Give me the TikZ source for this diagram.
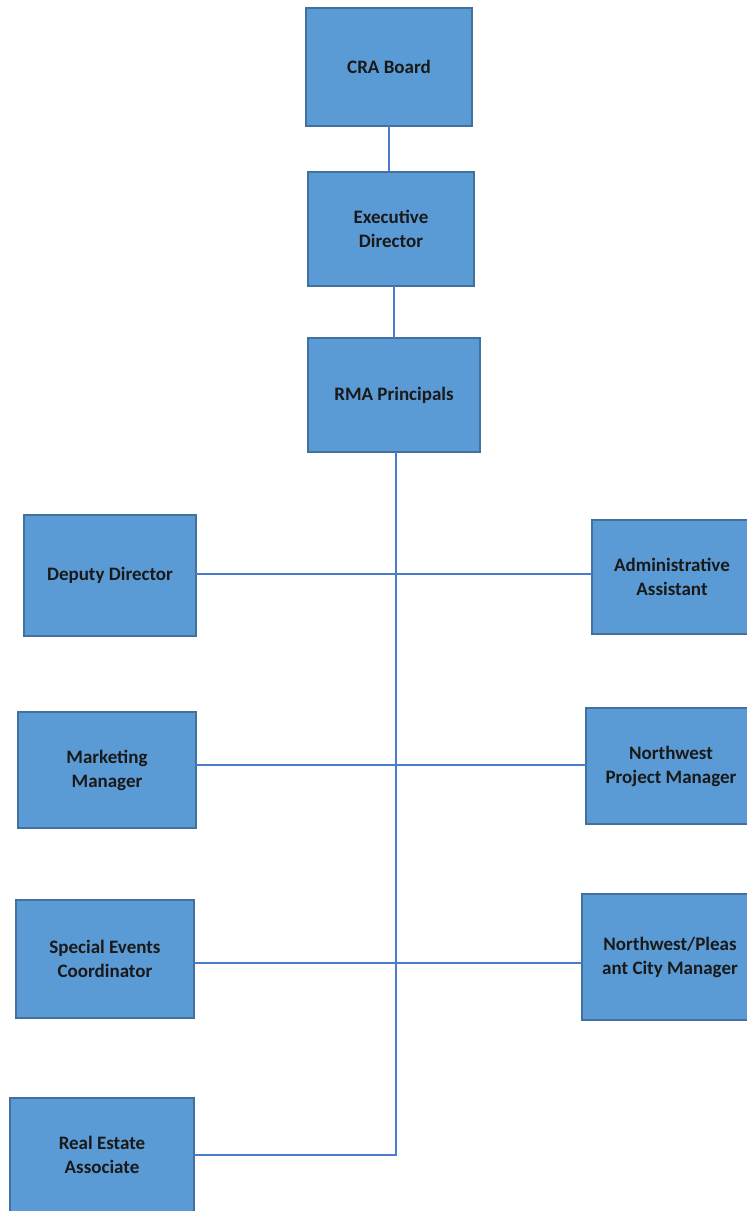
\documentclass[tikz,border=0pt]{standalone}
\usepackage{fontspec}
\setmainfont{Carlito}
\definecolor{boxfill}{HTML}{5B9BD5}
\definecolor{boxline}{HTML}{41719C}
\definecolor{conn}{HTML}{4A7CCB}
\begin{document}
\begin{tikzpicture}[x=1pt,y=-1pt,
  box/.style={draw=boxline, fill=boxfill, line width=1.4pt, inner sep=0pt, outer sep=0pt,
    anchor=north west, align=center, font=\fontsize{19}{24}\selectfont\bfseries, text=black!90},
  link/.style={draw=conn, line width=1.3pt}]
\useasboundingbox (0,0) rectangle (747,1211);
\clip (0,0) rectangle (747,1211);
\node[box, minimum width=166pt, minimum height=118pt] (cra) at (306,8) {CRA Board};
\node[box, minimum width=166pt, minimum height=114pt] (exec) at (308,172) {Executive\\Director};
\node[box, minimum width=172pt, minimum height=114pt] (rma) at (308,338) {RMA Principals};
\node[box, minimum width=172pt, minimum height=121pt] (dep) at (24,515) {Deputy Director};
\node[box, minimum width=160pt, minimum height=114pt] (adm) at (592,520) {Administrative\\Assistant};
\node[box, minimum width=178pt, minimum height=116pt] (mkt) at (18,712) {Marketing\\Manager};
\node[box, minimum width=170pt, minimum height=116pt] (nwp) at (586,708) {Northwest\\Project Manager};
\node[box, minimum width=178pt, minimum height=118pt] (sec) at (16,900) {Special Events\\Coordinator};
\node[box, minimum width=176pt, minimum height=126pt] (nwc) at (582,894) {Northwest/Pleas\\ant City Manager};
\node[box, minimum width=184pt, minimum height=114pt] (rea) at (10,1098) {Real Estate\\Associate};
\coordinate (spine) at (396,1155);
\draw[link] (cra.south) -- (cra.south |- exec.north);
\draw[link] (exec.south -| 394,0) -- (394,338);
\draw[link] (rma.south -| spine) -- (spine) -- (rea.east |- spine);
\draw[link] (dep.east |- 0,574) -- (adm.west |- 0,574);
\draw[link] (mkt.east |- 0,765) -- (nwp.west |- 0,765);
\draw[link] (sec.east |- 0,963) -- (nwc.west |- 0,963);
\end{tikzpicture}
\end{document}
